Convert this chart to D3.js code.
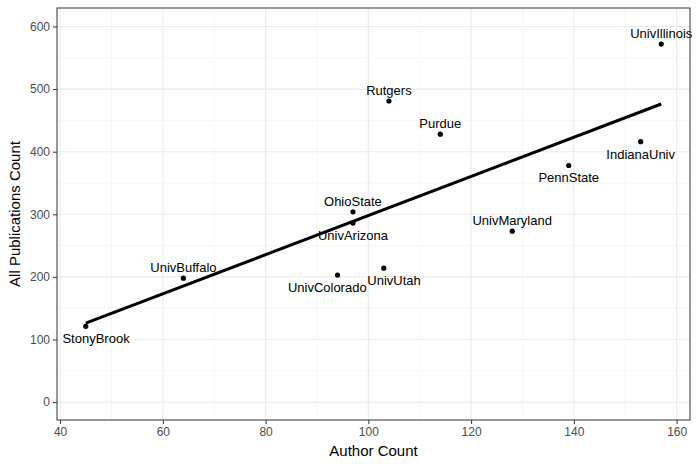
<!DOCTYPE html>
<html><head><meta charset="utf-8">
<script src="https://cdn.jsdelivr.net/npm/d3@7"></script>
<style>body{margin:0;background:#fff;font-family:Arial,"Liberation Sans",sans-serif}</style>
</head><body><svg id="chart" width="700" height="467"></svg>
<script>
// data
var schools = ["StonyBrook","UnivBuffalo","UnivColorado","UnivUtah","OhioState","UnivArizona","Rutgers","Purdue","UnivMaryland","PennState","IndianaUniv","UnivIllinois"]
var authors = [45, 64, 94, 103, 97, 97, 104, 114, 128, 139, 153, 157]
var pubs    = [121, 198, 203, 214, 304, 286, 481, 428, 273, 378, 416, 572]
var labelSide = ["below","above","below","below","above","below","above","above","above","below","below","above"]
var labelShift = [2, 0, -2, 2, 0, 0, 0, 0, 0, 0, 0, 0]
var xTicks = [40, 60, 80, 100, 120, 140, 160]
var yTicks = [0, 100, 200, 300, 400, 500, 600]

var svg = d3.select("#chart")
var margin = {top: 8, right: 10, bottom: 47, left: 57},
    width = 700 - margin.left - margin.right,
    height = 467 - margin.top - margin.bottom

var x = d3.scaleLinear().domain([39.4, 162.6]).range([0, width])
var y = d3.scaleLinear().domain([-28.6, 629.6]).range([height, 0])

var g = svg.append("g").attr("transform", "translate(" + margin.left + "," + margin.top + ")")

// grid: minor then major
var xMinor = d3.range(50, 161, 20), yMinor = d3.range(50, 601, 100)
g.selectAll(".xmin").data(xMinor).enter().append("line")
  .attr("x1", d => x(d)).attr("x2", d => x(d)).attr("y1", 0).attr("y2", height)
  .attr("stroke", "#f2f2f2").attr("stroke-width", 0.6)
g.selectAll(".ymin").data(yMinor).enter().append("line")
  .attr("y1", d => y(d)).attr("y2", d => y(d)).attr("x1", 0).attr("x2", width)
  .attr("stroke", "#f2f2f2").attr("stroke-width", 0.6)
g.selectAll(".xmaj").data(xTicks).enter().append("line")
  .attr("x1", d => x(d)).attr("x2", d => x(d)).attr("y1", 0).attr("y2", height)
  .attr("stroke", "#ebebeb").attr("stroke-width", 1.1)
g.selectAll(".ymaj").data(yTicks).enter().append("line")
  .attr("y1", d => y(d)).attr("y2", d => y(d)).attr("x1", 0).attr("x2", width)
  .attr("stroke", "#ebebeb").attr("stroke-width", 1.1)

// linear fit
var mx = d3.mean(authors), my = d3.mean(pubs)
var sxy = d3.sum(authors, (a, i) => (a - mx) * (pubs[i] - my))
var sxx = d3.sum(authors, a => (a - mx) * (a - mx))
var slope = sxy / sxx, icpt = my - slope * mx
var x0 = d3.min(authors), x1 = d3.max(authors)
g.append("line")
  .attr("x1", x(x0)).attr("y1", y(icpt + slope * x0))
  .attr("x2", x(x1)).attr("y2", y(icpt + slope * x1))
  .attr("stroke", "#000").attr("stroke-width", 3)

// points and labels
g.selectAll(".pt").data(schools).enter().append("circle")
  .attr("cx", (d, i) => x(authors[i])).attr("cy", (d, i) => y(pubs[i])).attr("r", 2.6)
g.selectAll(".lab").data(schools).enter().append("text")
  .attr("x", (d, i) => x(authors[i] + labelShift[i]))
  .attr("y", (d, i) => y(pubs[i]) + (labelSide[i] == "above" ? -6 : 17))
  .attr("text-anchor", "middle").attr("font-size", 13).text(d => d)

// panel border
g.append("rect").attr("width", width).attr("height", height)
  .attr("fill", "none").attr("stroke", "#333").attr("stroke-width", 1)

// axes
var xa = g.append("g").attr("transform", "translate(0," + height + ")")
  .call(d3.axisBottom(x).tickValues(xTicks).tickSize(4).tickPadding(3))
var ya = g.append("g").call(d3.axisLeft(y).tickValues(yTicks).tickSize(4).tickPadding(3))
;[xa, ya].forEach(function(a){
  a.select(".domain").remove()
  a.selectAll("line").attr("stroke", "#333")
  a.selectAll("text").attr("fill", "#4d4d4d").attr("font-size", 12)
})

svg.append("text").attr("x", margin.left + width / 2).attr("y", 456)
  .attr("text-anchor", "middle").attr("font-size", 15).text("Author Count")
svg.append("text").attr("transform", "translate(20," + (margin.top + height / 2) + ") rotate(-90)")
  .attr("text-anchor", "middle").attr("font-size", 15).text("All Publications Count")
</script></body></html>
